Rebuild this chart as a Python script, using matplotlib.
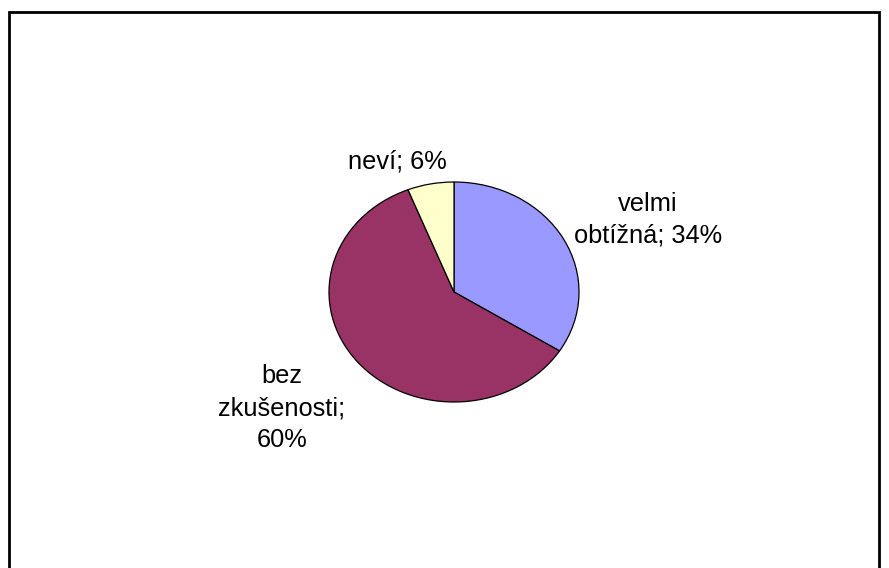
import matplotlib
matplotlib.use("Agg")
import matplotlib.pyplot as plt
from matplotlib.lines import Line2D

# --- data ---
categories = ["velmi obtížná", "bez zkušenosti", "neví"]
shares = [34, 60, 6]
colors = ["#9999FF", "#993366", "#FFFFCC"]
# label texts as wrapped in the chart
label_texts = ["velmi\nobtížná; 34%", "bez\nzkušenosti;\n60%", "neví; 6%"]
# label anchor (pixel x center, pixel y baseline of last line, from top)
label_pos = [(648, 243), (282, 447), (397, 168)]

W, H = 889, 568
fig = plt.figure(figsize=(W / 100, H / 100), dpi=100)
fig.patch.set_facecolor("white")

plt.rcParams["font.family"] = ["Liberation Sans", "DejaVu Sans"]

# pie axes: slightly stretched horizontally like the original
cx, cy, rx, ry = 454, 292, 125, 110
ax = fig.add_axes([(cx - rx) / W, 1 - (cy + ry) / H, 2 * rx / W, 2 * ry / H])
ax.pie(shares, colors=colors, startangle=90, counterclock=False,
       wedgeprops=dict(edgecolor="black", linewidth=0.9))
ax.set_aspect("auto")
ax.set_xlim(-1, 1)
ax.set_ylim(-1, 1)
ax.axis("off")

# data labels
for txt, (px, py) in zip(label_texts, label_pos):
    fig.text(px / W, 1 - py / H, txt, ha="center", va="baseline",
             multialignment="center", fontsize=18.3, linespacing=1.42,
             color="black")

# chart frame (top, left, right; bottom cut off)
frame_x = [9 / W, 9 / W, 879 / W, 879 / W]
frame_y = [0, 1 - 12 / H, 1 - 12 / H, 0]
fig.add_artist(Line2D(frame_x, frame_y, color="black", linewidth=2,
                      transform=fig.transFigure, solid_joinstyle="miter"))

fig.savefig("out.png", dpi=100, facecolor="white")
